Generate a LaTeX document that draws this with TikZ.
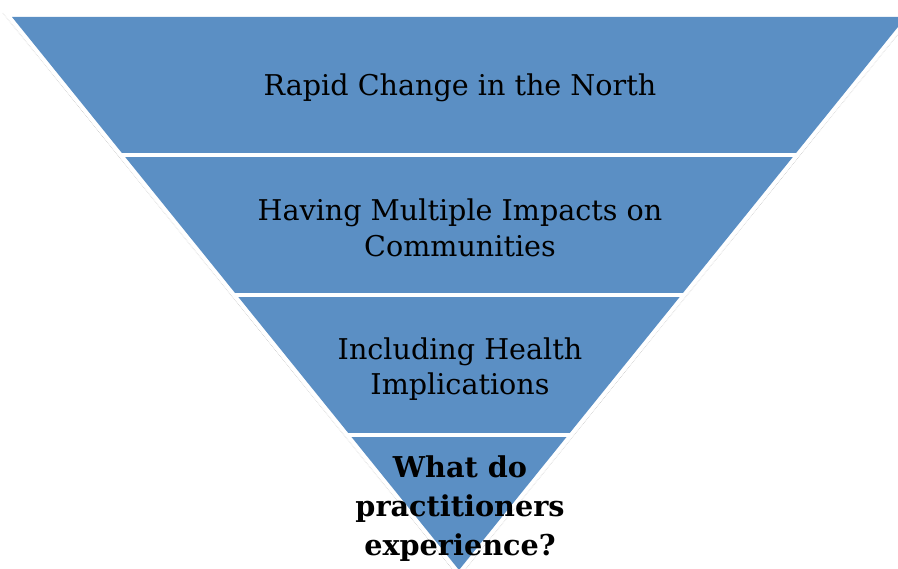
\documentclass[tikz,border=0pt]{standalone}
\usepackage{fontspec}
\setmainfont{DejaVu Serif}
\definecolor{bandblue}{RGB}{91,143,196}
\tikzset{
  bandtext/.style={align=center,text=black,font=\fontsize{28.6}{35.5}\selectfont},
  asktext/.style={align=center,text=black,font=\bfseries\fontsize{28.7}{39}\selectfont},
  gapline/.style={white,line width=4pt},
  rimline/.style={gray!45,line width=0.6pt,densely dotted}
}

\begin{document}
\begin{tikzpicture}[x=1pt,y=-1pt]
                \useasboundingbox (0,0) rectangle (898,569);
                \clip (0,0) rectangle (898,569);
                \fill[bandblue] (12,17) -- (906,17) -- (459,570) -- cycle;
                \foreach \gy in {155,295,435}
                    \draw[gapline] (0,\gy) -- (898,\gy);
                \draw[rimline] (2.8,13) -- (459,577.4) -- (915.2,13);
                \node[bandtext] (rapid) at (460,88) {Rapid Change in the North};
                \node[bandtext] (impacts) at (460,228) {Having Multiple Impacts on\\Communities};
                \node[bandtext] (health) at (460,369) {Including Health\\Implications};
                \node[asktext] (ask) at (460,509) {What do\\practitioners\\experience?};
            \end{tikzpicture}
\end{document}
